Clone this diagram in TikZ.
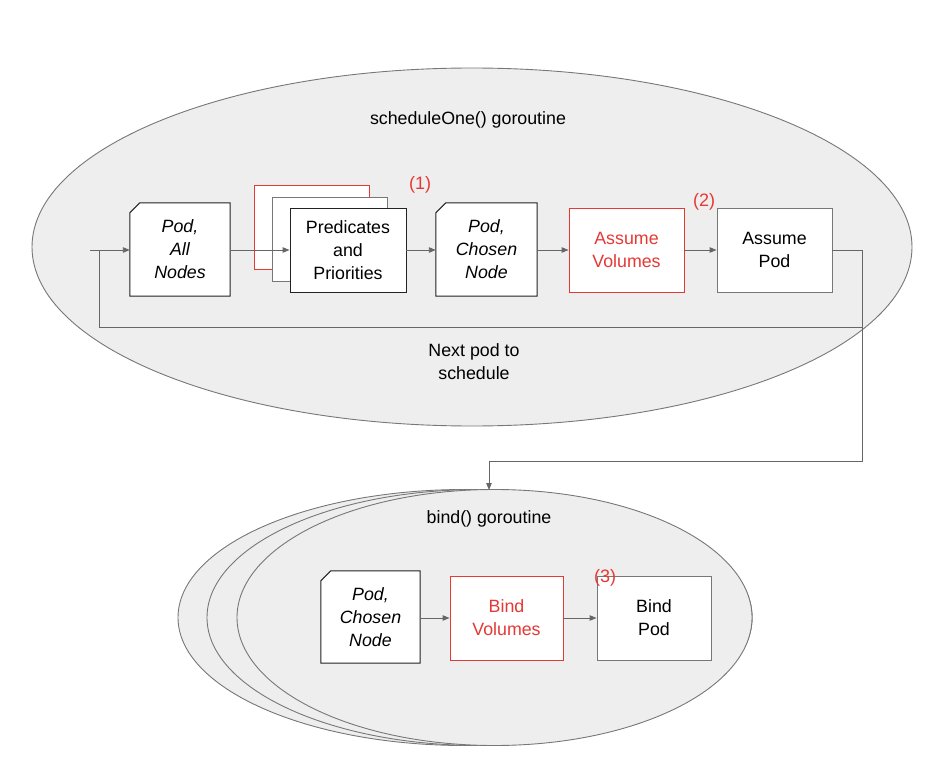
\documentclass[tikz,border=0pt]{standalone}
\usepackage{fontspec}
\setmainfont{Liberation Sans}
\usetikzlibrary{shapes.geometric,arrows.meta}
\definecolor{ellfill}{HTML}{EEEEEE}
\definecolor{ellline}{HTML}{777777}
\definecolor{myred}{HTML}{E53935}
\definecolor{lnk}{HTML}{666666}
\definecolor{dark}{HTML}{222222}
\begin{document}
\begin{tikzpicture}[x=1pt,y=1pt,
  every node/.style={font=\fontsize{17.8}{23}\selectfont},
  goro/.style={ellipse, draw=ellline, fill=ellfill, line width=0.9pt, inner sep=0pt},
  boxn/.style={rectangle, fill=white, inner sep=0pt, minimum width=115pt, minimum height=84pt, align=center, line width=0.9pt},
  docn/.style={rectangle, inner sep=0pt, minimum width=100pt, minimum height=93pt, align=center, font=\fontsize{17.8}{23}\selectfont\itshape},
  docline/.style={draw=dark, fill=white, line width=1pt},
  lnkline/.style={draw=lnk, line width=0.9pt},
  arr/.style={lnkline, -{Triangle[length=7pt,width=5.5pt]}},
  note/.style={text=myred, font=\fontsize{18}{20}\selectfont}
]
\useasboundingbox (0,0) rectangle (942,-770);

% main goroutine
\node[goro, minimum width=880pt, minimum height=358pt] (main) at (472,-247) {};
\node (t1) at (468,-120) {scheduleOne() goroutine};

% bind goroutines
\node[goro, minimum width=574pt, minimum height=256pt] (bb) at (465,-617.5) {};
\node[goro, minimum width=545pt, minimum height=256pt] (bm) at (479.5,-617.5) {};
\node[goro, minimum width=515pt, minimum height=256pt] (bf) at (494.5,-617.5) {};
\node (t2) at (489,-519) {bind() goroutine};

% scheduleOne boxes
\node[docn] (pan) at (180,-249.5) {};
\draw[docline] (pan.south west) -- (pan.south east) -- (pan.north east) -- ([xshift=10pt]pan.north west) -- ([yshift=-10pt]pan.north west) -- cycle;
\node[docn, minimum width=100pt] at (pan) {Pod,\\All\\Nodes};

\node[boxn, draw=myred] (predR) at (311.5,-227) {};
\node[boxn, draw=ellline] (predG) at (329.5,-239) {};
\node[boxn, draw=dark, minimum width=116pt] (pred) at (348,-250) {Predicates\\and\\Priorities};

\node[docn, minimum width=101pt] (pcn) at (486.5,-249.5) {};
\draw[docline] (pcn.south west) -- (pcn.south east) -- (pcn.north east) -- ([xshift=10pt]pcn.north west) -- ([yshift=-10pt]pcn.north west) -- cycle;
\node[docn, minimum width=101pt] at (pcn) {Pod,\\Chosen\\Node};

\node[boxn, draw=myred, text=myred] (av) at (626.5,-250) {Assume\\Volumes};
\node[boxn, draw=ellline] (ap) at (774.5,-250) {Assume\\Pod};

\node[note] (n1) at (420,-185) {(1)};
\node[note] (n2) at (704,-202) {(2)};

% bind boxes
\node[docn, minimum width=99pt, minimum height=92pt] (bpcn) at (370.5,-617) {};
\draw[docline] (bpcn.south west) -- (bpcn.south east) -- (bpcn.north east) -- ([xshift=10pt]bpcn.north west) -- ([yshift=-10pt]bpcn.north west) -- cycle;
\node[docn, minimum width=99pt, minimum height=92pt] at (bpcn) {Pod,\\Chosen\\Node};

\node[boxn, draw=myred, text=myred, minimum width=113pt] (bv) at (506.5,-618) {Bind\\Volumes};
\node[boxn, draw=ellline, minimum width=114pt] (bp) at (654,-618) {Bind\\Pod};
\node[note] (n3) at (605,-578) {(3)};

% connectors
\coordinate (in) at (90,-250);
\draw[arr] (in) -- (pan.west |- in);
\draw[arr] (pan.east |- in) -- (pred.west);
\draw[arr] (pred.east) -- (pcn.west |- pred.east);
\draw[arr] (pcn.east |- av.west) -- (av.west);
\draw[arr] (av.east) -- (ap.west);

\coordinate (j1) at (862,-250);
\coordinate (j2) at (862,-461);
\coordinate (j3) at (489,-461);
\coordinate (j4) at (489,-490);
\draw[lnkline] (ap.east) -- (j1) -- (j2) -- (j3);
\draw[arr] (j3) -- (j4);

\coordinate (l1) at (862,-327);
\coordinate (l2) at (99,-327);
\coordinate (l3) at (99,-250);
\draw[lnkline] (l1) -- (l2) -- (l3);

\node[align=center] (next) at (474,-362) {Next pod to\\schedule};

\draw[arr] (bpcn.east |- bv.west) -- (bv.west);
\draw[arr] (bv.east) -- (bp.west);
\end{tikzpicture}
\end{document}
